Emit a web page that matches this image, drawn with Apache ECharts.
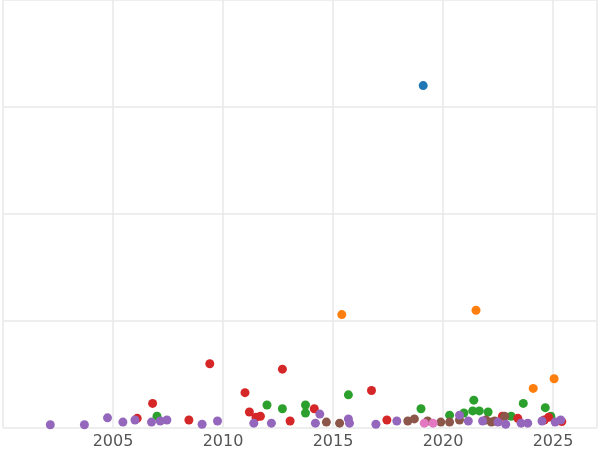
<!DOCTYPE html>
<html><head><meta charset="utf-8">
<script src="https://cdn.jsdelivr.net/npm/echarts@6/dist/echarts.min.js"></script>
<style>html,body{margin:0;background:#fff}#c{width:600px;height:450px}</style>
</head><body><div id="c"></div>
<script>
// [year, value] per group
const blue = [[2019.1, 320]];
const orange = [[2015.4, 106], [2021.5, 110], [2024.1, 37], [2025.05, 46]];
const red = [[2009.4, 60], [2012.7, 55], [2011.0, 33], [2006.8, 23], [2016.75, 35], [2011.2, 15], [2011.7, 11], [2011.5, 10],
  [2006.1, 9], [2008.45, 7.5], [2013.05, 6.5], [2014.15, 18], [2017.45, 7.5], [2023.4, 9], [2022.7, 11], [2024.8, 10], [2025.4, 6], [2024.6, 7.5]];
const green = [[2015.7, 31], [2013.75, 21.5], [2013.75, 14], [2012.0, 21.5], [2012.7, 18], [2007.0, 11], [2019.0, 18], [2021.4, 26],
  [2023.65, 23], [2024.65, 19], [2020.3, 12], [2020.95, 14], [2021.35, 16], [2021.65, 16], [2022.05, 15], [2023.1, 11], [2024.9, 11]];
const brown = [[2014.7, 5.5], [2015.3, 4.5], [2018.4, 6.5], [2018.7, 8.5], [2019.3, 6.5], [2019.9, 5.5], [2020.3, 5.5],
  [2020.75, 7.5], [2021.95, 7.5], [2022.35, 6.5], [2022.8, 11], [2022.2, 5.5]];
const purple = [[2002.15, 3], [2003.7, 3], [2004.75, 9.5], [2005.45, 5.5], [2006.0, 7.5], [2006.75, 5.5], [2007.15, 6.5], [2007.45, 7.5],
  [2009.05, 3.5], [2009.75, 6.5], [2011.4, 4.5], [2012.2, 4.5], [2014.4, 13], [2014.2, 4.5], [2015.7, 8.5], [2015.75, 4.5],
  [2016.95, 3.5], [2017.9, 6.5], [2020.75, 12], [2021.15, 6.5], [2021.8, 6.5], [2022.5, 5.5], [2022.85, 3.5], [2023.55, 4.5],
  [2023.85, 4.5], [2024.5, 6.5], [2025.35, 7.5], [2025.1, 5.5]];
const pink = [[2019.15, 4.5], [2019.55, 4.5]];

const groups = [
  [blue, '#1f77b4'], [orange, '#ff7f0e'], [green, '#2ca02c'], [red, '#d62728'],
  [brown, '#8c564b'], [purple, '#9467bd'], [pink, '#e377c2']
];

const chart = echarts.init(document.getElementById('c'));
chart.setOption({
  animation: false,
  grid: { left: -4, right: -1, top: 0, bottom: 22 },
  xAxis: {
    type: 'value', min: 2000, max: 2027, interval: 5,
    axisLine: { show: false }, axisTick: { show: false },
    axisLabel: { color: '#555', fontSize: 16, fontFamily: 'DejaVu Sans', margin: 6,
      formatter: v => (v > 2000 && v < 2027 ? String(v) : '') },
    splitLine: { show: true, lineStyle: { color: '#e8e8e8', width: 1.5 } }
  },
  yAxis: {
    type: 'value', min: 0, max: 400, interval: 100,
    axisLine: { show: false }, axisTick: { show: false }, axisLabel: { show: false },
    splitLine: { lineStyle: { color: '#e8e8e8', width: 1.5 } }
  },
  series: groups.map(([d, c]) => ({
    type: 'scatter', data: d, symbolSize: 9, itemStyle: { color: c, opacity: 1 }
  }))
});
</script></body></html>
